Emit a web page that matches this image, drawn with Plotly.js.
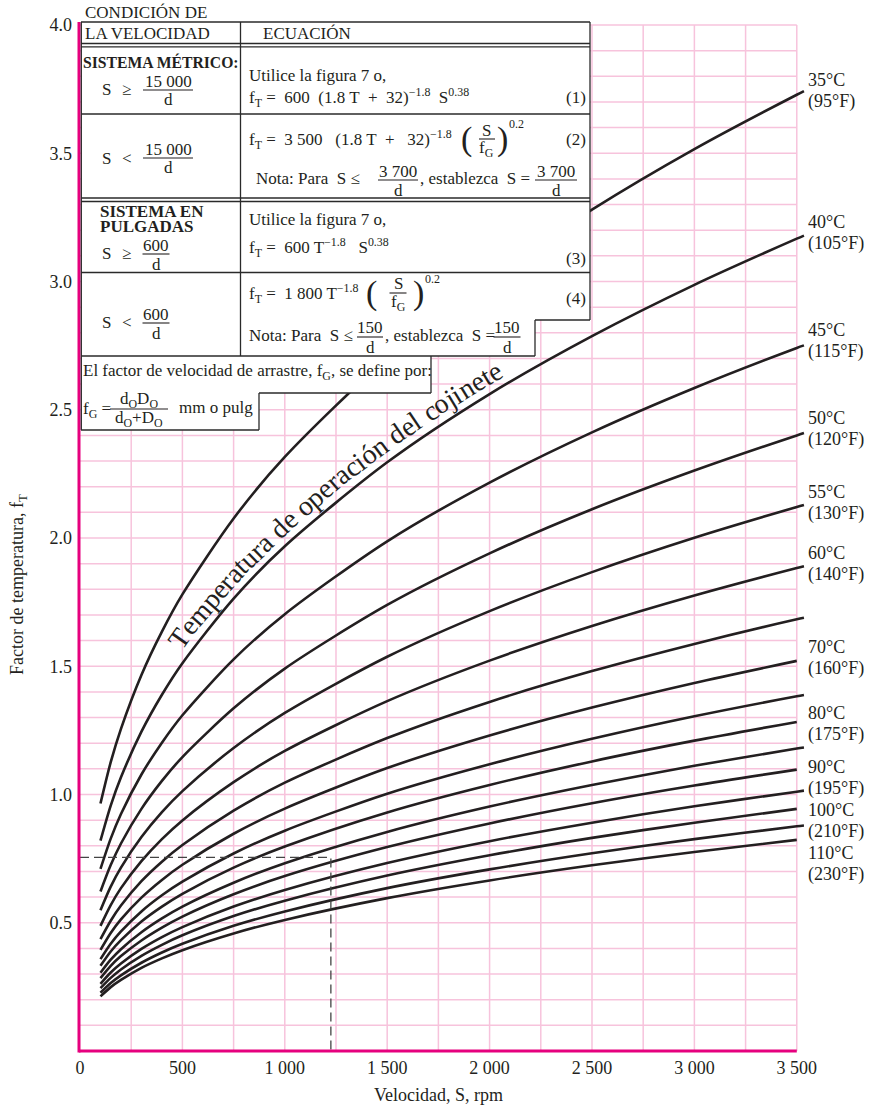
<!DOCTYPE html>
<html><head><meta charset="utf-8">
<script src="https://cdn.plot.ly/plotly-3.0.1.min.js"></script>
<style>html,body{margin:0;padding:0;background:#fff;}#chart{width:873px;height:1110px;}</style>
</head><body><div id="chart"></div>
<script>
// ---------------- DATA ----------------
const speedRpm = [100,150,200,300,400,500,750,1000,1500,2000,2500,3000,3500];
const f35C  = [0.965,1.126,1.256,1.466,1.635,1.780,2.076,2.316,2.702,3.014,3.280,3.516,3.728];
const f40C  = [0.820,0.957,1.067,1.245,1.389,1.512,1.764,1.968,2.295,2.561,2.787,2.987,3.167];
const f45C  = [0.710,0.828,0.924,1.078,1.202,1.309,1.527,1.703,1.987,2.216,2.412,2.585,2.741];
const f50C  = [0.622,0.725,0.809,0.944,1.053,1.146,1.336,1.491,1.739,1.940,2.112,2.263,2.400];
const f55C  = [0.549,0.641,0.715,0.834,0.931,1.013,1.181,1.318,1.537,1.715,1.867,2.001,2.121];
const f60C  = [0.488,0.569,0.635,0.740,0.826,0.899,1.048,1.170,1.364,1.522,1.657,1.776,1.883];
const f65C  = [0.436,0.508,0.567,0.662,0.738,0.803,0.937,1.046,1.220,1.361,1.481,1.587,1.683];
const f70C  = [0.394,0.460,0.513,0.598,0.667,0.726,0.847,0.945,1.103,1.230,1.339,1.435,1.521];
const f75C  = [0.358,0.418,0.466,0.544,0.607,0.660,0.770,0.859,1.003,1.118,1.217,1.305,1.383];
const f80C  = [0.332,0.388,0.432,0.505,0.563,0.613,0.715,0.797,0.930,1.037,1.129,1.210,1.283];
const f85C  = [0.305,0.356,0.397,0.463,0.517,0.563,0.656,0.732,0.854,0.953,1.037,1.112,1.179];
const f90C  = [0.284,0.332,0.370,0.431,0.481,0.524,0.611,0.682,0.795,0.887,0.966,1.035,1.097];
const f95C  = [0.262,0.306,0.341,0.398,0.444,0.483,0.563,0.628,0.733,0.818,0.890,0.954,1.011];
const f100C = [0.245,0.285,0.318,0.371,0.414,0.451,0.526,0.586,0.684,0.763,0.831,0.890,0.944];
const f105C = [0.227,0.265,0.295,0.344,0.384,0.418,0.488,0.544,0.635,0.708,0.771,0.826,0.876];
const f110C = [0.213,0.249,0.277,0.324,0.361,0.393,0.458,0.511,0.596,0.665,0.724,0.776,0.823];
const curveTemps = [35,40,45,50,55,60,65,70,75,80,85,90,95,100,105,110];
const curveValues = [f35C,f40C,f45C,f50C,f55C,f60C,f65C,f70C,f75C,f80C,f85C,f90C,f95C,f100C,f105C,f110C];
// short tails of some curves past 3 500 rpm
const tailSpeed = 3535;
const tailValues = [3.742,3.179,2.751,2.409,2.129,1.890,1.689,null,1.388,null,1.183,null,1.015,null,0.879,null];
// dashed example
const exampleSpeed = [0, 1225, 1225];
const exampleFactor = [0.755, 0.755, 0];
// ticks
const xTickVals = [0,500,1000,1500,2000,2500,3000,3500];
const xTickText = ['0','500','1 000','1 500','2 000','2 500','3 000','3 500'];
const yTickVals = [0.5,1.0,1.5,2.0,2.5,3.0,3.5,4.0];
const yTickText = ['0.5','1.0','1.5','2.0','2.5','3.0','3.5','4.0'];
// right-hand labels
const labelC = ['35°C','40°C','45°C','50°C','55°C','60°C','70°C','80°C','90°C','100°C','110°C'];
const labelF = ['(95°F)','(105°F)','(115°F)','(120°F)','(130°F)','(140°F)','(160°F)','(175°F)','(195°F)','(210°F)','(230°F)'];

// ---------------- LAYOUT HELPERS ----------------
const SERIF = '"Liberation Serif", "Times New Roman", serif';
const INK = '#231f20';
const X_MAX = 3545, Y_MAX = 4.0;
const L = 80, W = 726, TOP = 25, PH = 1026, BOT = TOP + PH;
const xp = px => (px - L) / W;
const yp = py => (BOT - py) / PH;
const sx = s => L + s / X_MAX * W;
const vy = v => BOT - v / Y_MAX * PH;

const shapes = [];
function seg(x0, y0, x1, y1, color, width, layer) {
  shapes.push({type:'line', xref:'paper', yref:'paper', x0:xp(x0), y0:yp(y0), x1:xp(x1), y1:yp(y1),
    line:{color:color, width:width}, layer:layer || 'above'});
}
// grid
const GRID = '#f7c3dc';
for (let s = 250; s <= 3500; s += 250) seg(sx(s), vy(0), sx(s), vy(4), GRID, 1.5, 'below');
for (let k = 1; k <= 40; k++) seg(sx(0), vy(k / 10), sx(3500), vy(k / 10), GRID, 1.5, 'below');

// table white background
const poly = [[81,22],[590,22],[590,320],[535,320],[535,356],[431,356],[431,393],[259,393],[259,430],[81,430]];
shapes.push({type:'path', xref:'paper', yref:'paper', layer:'above', fillcolor:'#ffffff', line:{width:0},
  path: 'M' + poly.map(p => xp(p[0]) + ',' + yp(p[1])).join('L') + 'Z'});
// magenta axes
const MAG = '#e6007e';
seg(79, vy(4) - 3, 79, vy(0) + 1.5, MAG, 3);
seg(79, vy(0), sx(3500), vy(0), MAG, 3);
// table lines
const TL = '#2a2a2a', TW = 1.3;
[[81,590,22],[81,590,43.5],[81,590,46.8],[81,590,114],[81,590,198],[81,590,201.5],[81,590,272.5],
 [81,535,356],[535,590,320],[259,431,393],[81,259,430]].forEach(h => seg(h[0], h[2], h[1], h[2], TL, TW));
[[81.3,22,430],[240.5,22,356],[590,22,320],[535,320,356],[431,356,393],[259,393,430]].forEach(v => seg(v[0], v[1], v[0], v[2], TL, TW));

// annotations
const ann = [];
function T(text, px, py, o) {
  o = o || {};
  ann.push({xref:'paper', yref:'paper', x:xp(px), y:yp(py), text:text, showarrow:false,
    xanchor:o.xa || 'left', yanchor:'middle', textangle:o.ang || 0, borderpad:0,
    font:{family:SERIF, size:o.size || 17, color:INK}});
}
function frac(num, den, cx, bar, w, size) {
  T(num, cx, bar - 9, {xa:'center', size:size});
  T(den, cx, bar + 10, {xa:'center', size:size});
  seg(cx - w / 2, bar, cx + w / 2, bar, INK, 1.1);
}
const NB = '\u00a0';
const N2 = NB + NB;
// header
T('CONDICIÓN DE', 84, 12);
T('LA VELOCIDAD', 84, 33);
T('ECUACIÓN', 262, 33);
// row 1
T('<b>SISTEMA MÉTRICO:</b>', 82, 62, {size:15.7});
T('S', 101, 89); T('≥', 121, 89); frac('15 000', 'd', 168, 90, 50);
T('Utilice la figura 7 o,', 248, 76);
T('f<sub>T</sub>' + NB + '=' + N2 + '600' + N2 + '(1.8 T' + N2 + '+' + N2 + '32)<sup>−1.8</sup>' + N2 + 'S<sup>0.38</sup>', 248, 97);
T('(1)', 587, 97, {xa:'right'});
// row 2
T('S', 101, 158); T('<', 121, 158); frac('15 000', 'd', 168, 158, 50);
T('f<sub>T</sub>' + NB + '=' + N2 + '3 500' + N2 + NB + '(1.8 T' + N2 + '+' + N2 + NB + '32)<sup>−1.8</sup>', 248, 139);
T('(', 466, 139, {xa:'center', size:34}); frac('S', 'f<sub>G</sub>', 487, 139, 16); T(')', 503, 139, {xa:'center', size:34});
T('0.2', 508, 124, {size:12});
T('(2)', 587, 139, {xa:'right'});
T('Nota: Para' + N2 + 'S ≤', 255, 178);
frac('3 700', 'd', 398, 180, 40);
T(', establezca' + N2 + 'S =', 419, 178);
frac('3 700', 'd', 556, 180, 42);
// row 3
T('<b>SISTEMA EN</b>', 99, 211);
T('<b>PULGADAS</b>', 99, 226);
T('S', 101, 253); T('≥', 121, 253); frac('600', 'd', 156, 254, 27);
T('Utilice la figura 7 o,', 248, 220);
T('f<sub>T</sub>' + NB + '=' + N2 + '600 T<sup>−1.8</sup>' + N2 + NB + 'S<sup>0.38</sup>', 248, 247);
T('(3)', 587, 258, {xa:'right'});
// row 4
T('S', 101, 322); T('<', 121, 322); frac('600', 'd', 156, 323, 27);
T('f<sub>T</sub>' + NB + '=' + N2 + '1 800 T<sup>−1.8</sup>', 248, 293);
T('(', 371, 293, {xa:'center', size:34}); frac('S', 'f<sub>G</sub>', 398, 293, 17); T(')', 418, 293, {xa:'center', size:34});
T('0.2', 424, 279, {size:12});
T('(4)', 587, 298, {xa:'right'});
T('Nota: Para' + N2 + 'S ≤', 248, 335);
frac('150', 'd', 370, 337, 26);
T(', establezca' + N2 + 'S =', 384, 335);
frac('150', 'd', 507, 337, 27);
// f_G box
T('El factor de velocidad de arrastre, f<sub>G</sub>, se define por:', 82, 372);
T('f<sub>G</sub>' + NB + '=', 82, 410);
frac('d<sub>O</sub>D<sub>O</sub>', 'd<sub>O</sub>+D<sub>O</sub>', 139, 409, 58);
T('mm o pulg', 178, 408);

// axis titles
T('Factor de temperatura, f<sub>T</sub>', 18, 585, {xa:'center', ang:-90, size:18});
T('Velocidad, S, rpm', 438, 1095, {xa:'center', size:18});

// right labels
const labelY = [80,222,330,418,492,553,647,713,767,810,853];
labelC.forEach((t, i) => { T(t, 807, labelY[i], {size:18}); T(labelF[i], 807, labelY[i] + 21, {size:18}); });

// curved caption along the curves
const ARC_SIZE = 28;
const arcText = 'Temperatura de operación del cojinete';
const arcPath = [[174,645],[186,628],[237,569],[288,520],[339,476],[390,438],[440,404],[491,373],[521,355],[560,333]];
const cum = [0];
for (let i = 1; i < arcPath.length; i++) {
  const dx = arcPath[i][0] - arcPath[i-1][0], dy = arcPath[i][1] - arcPath[i-1][1];
  cum.push(cum[i-1] + Math.hypot(dx, dy));
}
function along(s) {
  let i = 1;
  while (i < cum.length - 1 && cum[i] < s) i++;
  const t = (s - cum[i-1]) / (cum[i] - cum[i-1]);
  return [arcPath[i-1][0] + t * (arcPath[i][0] - arcPath[i-1][0]), arcPath[i-1][1] + t * (arcPath[i][1] - arcPath[i-1][1])];
}
const cv = document.createElement('canvas').getContext('2d');
cv.font = ARC_SIZE + 'px "Liberation Serif"';
let sPos = 0;
for (const ch of arcText) {
  const w = cv.measureText(ch).width;
  const mid = sPos + w / 2;
  if (ch !== ' ') {
    const p = along(mid), a = along(Math.max(0, mid - 8)), b = along(mid + 8);
    const ang = Math.atan2(b[1] - a[1], b[0] - a[0]) * 180 / Math.PI;
    T(ch, p[0], p[1], {xa:'center', ang:ang, size:ARC_SIZE});
  }
  sPos += w;
}

// ---------------- TRACES ----------------
const data = [];
curveValues.forEach((vals, i) => {
  const xs = speedRpm.slice(), ys = vals.slice();
  if (tailValues[i] !== null) { xs.push(tailSpeed); ys.push(tailValues[i]); }
  data.push({x:xs, y:ys, type:'scatter', mode:'lines', name:curveTemps[i] + '°C',
    line:{color:INK, width:2.6, shape:'spline', smoothing:0.8}, hoverinfo:'skip', showlegend:false});
});
data.push({x:exampleSpeed, y:exampleFactor, type:'scatter', mode:'lines', line:{color:'#444', width:1.3, dash:'9px,5px'},
  hoverinfo:'skip', showlegend:false});

const layout = {
  width:873, height:1110, margin:{l:L, r:873 - L - W, t:TOP, b:1110 - BOT},
  paper_bgcolor:'#fff', plot_bgcolor:'#fff', showlegend:false,
  xaxis:{range:[0, X_MAX], showgrid:false, zeroline:false, showline:false, ticks:'', tickmode:'array',
    tickvals:xTickVals, ticktext:xTickText, tickfont:{family:SERIF, size:18, color:INK}, ticklabelstandoff:4},
  yaxis:{range:[0, Y_MAX], showgrid:false, zeroline:false, showline:false, ticks:'', tickmode:'array',
    tickvals:yTickVals, ticktext:yTickText, tickfont:{family:SERIF, size:18, color:INK}, ticklabelstandoff:7},
  shapes:shapes, annotations:ann
};
Plotly.newPlot('chart', data, layout, {staticPlot:true});
</script></body></html>
